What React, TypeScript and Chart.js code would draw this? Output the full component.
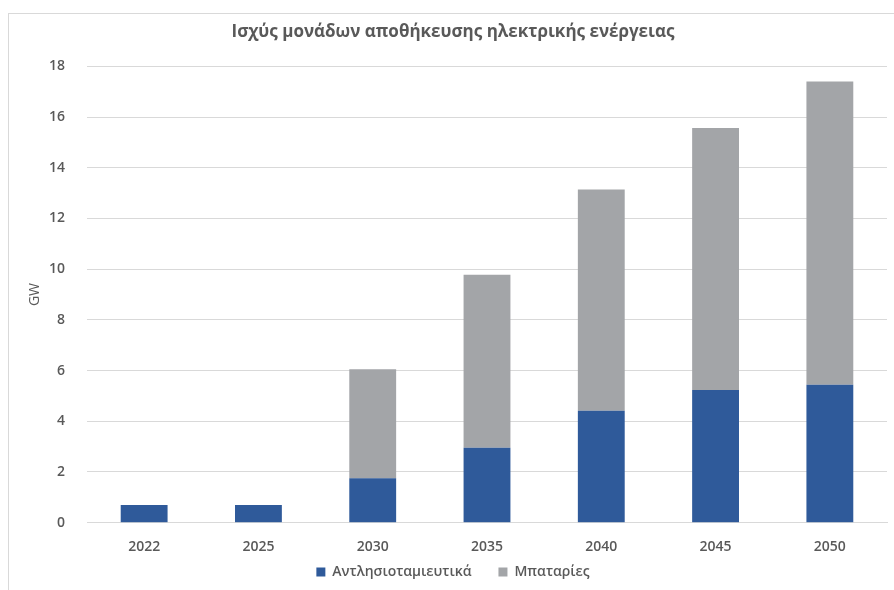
import React, { useEffect, useRef } from "react";
import { Chart, registerables } from "chart.js";

Chart.register(...registerables);

const categories = ["2022", "2025", "2030", "2035", "2040", "2045", "2050"];
const pumpedStorage = [0.7, 0.7, 1.75, 2.96, 4.42, 5.23, 5.44];
const batteries = [0, 0, 4.3, 6.82, 8.72, 10.34, 11.96];
const seriesNames = ["Αντλησιοταμιευτικά", "Μπαταρίες"];
const titleText = "Ισχύς μονάδων αποθήκευσης ηλεκτρικής ενέργειας";
const yAxisTitle = "GW";
const yMin = 0;
const yMax = 18;
const yStep = 2;

const FONT = "'Open Sans', 'Noto Sans', sans-serif";
const TEXT = "#595959";

const legendShift = {
  id: "legendShift",
  afterLayout(chart: any) {
    const lg = chart.legend;
    if (lg) {
      lg.top -= 15.7;
      lg.bottom -= 15.7;
    }
  },
};

export default function App() {
  const ref = useRef<HTMLCanvasElement | null>(null);

  useEffect(() => {
    if (!ref.current) return;
    const chart = new Chart(ref.current, {
      type: "bar",
      data: {
        labels: categories,
        datasets: [
          {
            label: seriesNames[0],
            data: pumpedStorage,
            backgroundColor: "#2F5A9A",
            borderWidth: 0,
            barPercentage: 0.41,
            categoryPercentage: 1,
          },
          {
            label: seriesNames[1],
            data: batteries,
            backgroundColor: "#A3A5A8",
            borderWidth: 0,
            barPercentage: 0.41,
            categoryPercentage: 1,
          },
        ],
      },
      plugins: [legendShift],
      options: {
        animation: false,
        responsive: true,
        maintainAspectRatio: false,
        layout: { padding: { left: 10, right: 7, top: 0, bottom: -14.7 } },
        plugins: {
          title: {
            display: true,
            text: titleText,
            color: TEXT,
            font: { family: FONT, size: 17, weight: "bold" },
            padding: { top: 8, bottom: 24 },
          },
          legend: {
            display: true,
            position: "bottom",
            labels: {
              color: TEXT,
              font: { family: FONT, size: 14, weight: "600" },
              boxWidth: 9,
              boxHeight: 9,
              padding: 27,
            },
          },
          tooltip: { enabled: false },
        },
        scales: {
          x: {
            stacked: true,
            grid: { display: false, drawTicks: false },
            border: { display: true, color: "#D9D9D9" },
            ticks: {
              color: TEXT,
              font: { family: FONT, size: 14, weight: "600" },
              padding: 15.6,
            },
            afterFit: (scale: any) => {
              scale.height = 31;
            },
          },
          y: {
            stacked: true,
            min: yMin,
            max: yMax,
            grid: { color: "#D9D9D9", drawTicks: false },
            border: { display: false },
            ticks: {
              stepSize: yStep,
              color: TEXT,
              font: { family: FONT, size: 14, weight: "600" },
              padding: 22,
            },
            title: {
              display: true,
              text: yAxisTitle,
              color: TEXT,
              font: { family: FONT, size: 14, weight: "normal" },
              padding: { top: 7.6, bottom: 5 },
            },
            afterFit: (scale: any) => {
              scale.width = 68;
            },
          },
        },
      },
    });
    return () => chart.destroy();
  }, []);

  return (
    <div
      style={{
        position: "fixed",
        left: 8,
        top: 13,
        width: 886,
        height: 577,
        boxSizing: "border-box",
        borderTop: "1px solid #D9D9D9",
        borderLeft: "1px solid #D9D9D9",
        background: "#fff",
      }}
    >
      <div style={{ position: "relative", width: "100%", height: "100%" }}>
        <canvas ref={ref} />
      </div>
    </div>
  );
}
